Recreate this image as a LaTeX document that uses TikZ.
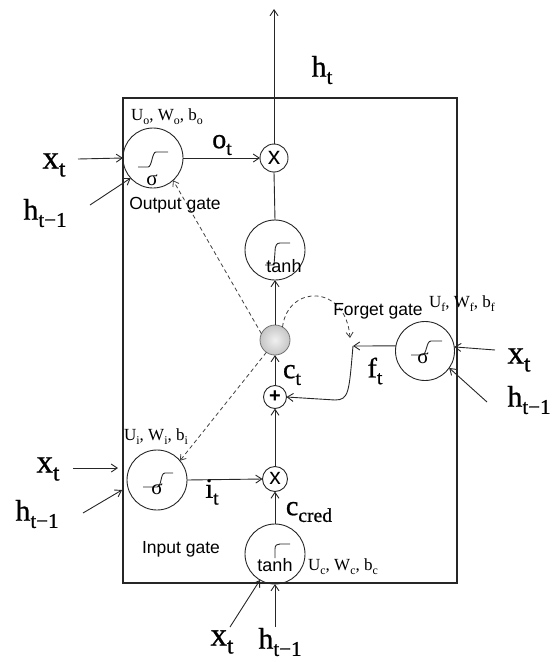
\documentclass[tikz,border=0pt]{standalone}
\usepackage{fontspec}
\usepackage{graphicx}
\setmainfont{Liberation Serif}
\newfontfamily\sansf{Liberation Sans}
\newfontfamily\labf[FakeBold=0.8]{Liberation Serif}
\usetikzlibrary{arrows.meta}
\newcommand{\lsub}[1]{\raisebox{-0.24em}{\scalebox{0.7}{#1}}}
\begin{document}
\begin{tikzpicture}[x=1pt,y=-1pt,
  every node/.style={inner sep=0pt, outer sep=0pt},
  ln/.style={line width=0.9pt, draw=black!85},
  arr/.style={ln, -{Straight Barb[length=6pt,width=8pt]}},
  dsh/.style={line width=0.8pt, draw=black!75, dash pattern=on 4pt off 3pt, -{Straight Barb[length=5pt,width=7pt]}},
  gate/.style={circle, draw=black!85, line width=0.9pt, minimum size=60pt},
  glyph/.style={line width=0.9pt, draw=black!85},
  biglab/.style={font=\labf\fontsize{30}{30}\selectfont},
  xlab/.style={font=\labf\fontsize{33}{33}\selectfont},
  medlab/.style={font=\labf\fontsize{28}{28}\selectfont},
  parlab/.style={font=\fontsize{17}{17}\selectfont},
  gatelab/.style={font=\sansf\fontsize{17.5}{18}\selectfont},
  fnlab/.style={font=\sansf\fontsize{18}{18}\selectfont},
  siglab/.style={font=\fontsize{21}{21}\selectfont}
]
\useasboundingbox (0,0) rectangle (554,662);
% frame
\draw[line width=1.1pt, draw=black!85] (123,98) rectangle (457,583);

% gates and operators
\node[gate] (out) at (153,158) {};
\node[gate, minimum size=28pt, font=\sansf\fontsize{25}{25}\selectfont] (ox) at (274,158) {\raisebox{1pt}{x}};
\node[gate] (tanhU) at (275,250) {};
\node[circle, draw=black!55, line width=0.8pt, minimum size=30pt, inner color=gray!12, outer color=gray!45] (cell) at (275,340) {};
\node[gate, minimum size=23pt, font=\sansf\bfseries\fontsize{20}{20}\selectfont] (plus) at (275,397) {\raisebox{1pt}{+}};
\node[gate, minimum size=59pt] (forg) at (425,351) {};
\node[gate] (inp) at (157,480) {};
\node[gate, minimum size=25pt, font=\sansf\fontsize{23}{23}\selectfont] (ix) at (275,479) {\raisebox{1pt}{x}};
\node[gate] (tanhL) at (275,554) {};

% glyphs inside the gates
\begin{scope}[shift={(out.center)}]
  \draw[glyph] (-15,9) -- (-5,9) .. controls (-1,9) and (-1,-6) .. (3,-6) -- (15,-6);
  \node[siglab] (outsig) at (-1,22) {σ};
\end{scope}
\begin{scope}[shift={(inp.center)}]
  \draw[glyph] (-14,7) -- (0,7) .. controls (5,7) and (3,-7) .. (8,-7) -- (16,-7);
  \node[siglab] (inpsig) at (0,9) {σ};
\end{scope}
\begin{scope}[shift={(forg.center)}]
  \draw[glyph] (-14,4) -- (-3,4) .. controls (2,4) and (1,-10) .. (6,-10) -- (17,-10);
  \node[siglab] (forgsig) at (-2,7) {σ};
\end{scope}
\begin{scope}[shift={(tanhU.center)}]
  \draw[glyph] (-10,15) -- (-1,15) -- (0,2) .. controls (0,-5) and (2,-7) .. (5,-7) -- (15,-7);
  \node[fnlab] (tanhUt) at (9,16) {tanh};
\end{scope}
\begin{scope}[shift={(tanhL.center)}]
  \draw[glyph] (0,4) -- (0,-5) .. controls (0,-9) and (2,-10) .. (5,-10) -- (15,-10);
  \node[fnlab] (tanhLt) at (0,11) {tanh};
\end{scope}

% free ends
\coordinate (top) at (274,9);
\coordinate (fj) at (353,346);
\coordinate (fd) at (350,338);
\coordinate (xoS) at (78,159);
\coordinate (hoS) at (90,205);
\coordinate (xiS) at (73,468);
\coordinate (xiE) at (118,468);
\coordinate (hiS) at (83,513);
\coordinate (hiE) at (122,490);
\coordinate (xfS) at (495,350);
\coordinate (hfS) at (487,402);
\coordinate (xcS) at (230,627);
\coordinate (hcS) at (275,627);

% main connectors
\draw[arr] (ox.north) -- (top);
\draw[arr] (out.east) -- (ox.west);
\draw[ln] (ox.south) -- (tanhU.north);
\draw[arr] (cell.north) -- (tanhU.south);
\draw[arr] (plus.north) -- (cell.south);
\draw[arr] (ix.north) -- (plus.south);
\draw[arr] (tanhL.north) -- (ix.south);
\draw[arr] (inp.east) -- (ix.west);
\draw[arr] (forg.170) -- (fj);
\draw[arr] (fj) .. controls (349,392) and (349,400) .. (335,400) -- (plus.east);

% dashed peephole connectors
\draw[dsh] (cell.155) -- (out.-48);
\draw[dsh] (cell.-125) -- (inp.40);
\draw[dsh] (cell.60) .. controls (288,284) and (346,284) .. (fd);

% inputs
\draw[arr] (xoS) -- (out.west);
\draw[arr] (hoS) -- (out.-138);
\draw[arr] (xiS) -- (xiE);
\draw[arr] (hiS) -- (hiE);
\draw[arr] (xfS) -- (forg.8);
\draw[arr] (hfS) -- (forg.-35);
\draw[arr] (xcS) -- (tanhL.-120);
\draw[arr] (hcS) -- (tanhL.south);

% variable labels
\node[biglab] (lht) at (322,70) {h\lsub{t}};
\node[xlab] (lxo) at (54,165) {x\lsub{t}};
\node[biglab] (lho) at (45,213) {h\lsub{t−1}};
\node[xlab] (lxi) at (48,469) {x\lsub{t}};
\node[biglab] (lhi) at (37,514) {h\lsub{t−1}};
\node[xlab] (lxf) at (519,360) {x\lsub{t}};
\node[biglab] (lhf) at (529,400) {h\lsub{t−1}};
\node[xlab] (lxc) at (222,642) {x\lsub{t}};
\node[biglab] (lhc) at (280,642) {h\lsub{t−1}};
\node[medlab] (lot) at (222,145) {o\lsub{t}};
\node[medlab] (lct) at (292,375) {c\lsub{t}};
\node[medlab] (lft) at (375,371) {f\lsub{t}};
\node[medlab] (lit) at (212,492) {i\lsub{t}};
\node[medlab] (lcc) at (309,512) {c\lsub{cred}};

% parameter labels
\node[parlab] (po) at (167,117) {U\lsub{o}, W\lsub{o}, b\lsub{o}};
\node[parlab] (pi) at (156,437) {U\lsub{i}, W\lsub{i}, b\lsub{i}};
\node[parlab] (pf) at (462,304) {U\lsub{f}, W\lsub{f}, b\lsub{f}};
\node[parlab] (pc) at (343,567) {U\lsub{c}, W\lsub{c}, b\lsub{c}};

% gate names
\node[gatelab] (go) at (175,205) {Output gate};
\node[gatelab] (gi) at (181,549) {Input gate};
\node[gatelab] (gf) at (378,311) {Forget gate};
\end{tikzpicture}
\end{document}
